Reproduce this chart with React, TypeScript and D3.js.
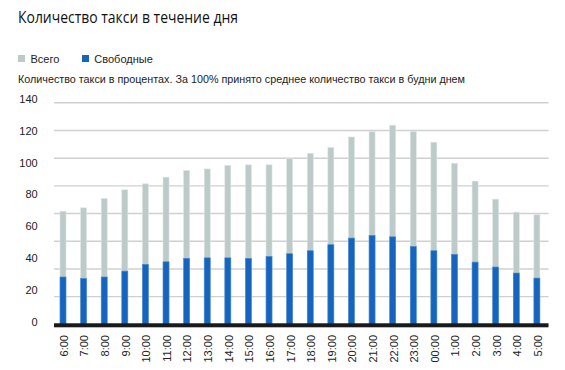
import React from "react";
import * as d3 from "d3";

const hours = ["6:00","7:00","8:00","9:00","10:00","11:00","12:00","13:00","14:00","15:00","16:00","17:00","18:00","19:00","20:00","21:00","22:00","23:00","00:00","1:00","2:00","3:00","4:00","5:00"];
const total = [71.5,73.6,79.5,85,88.8,93,97.2,98.2,100.4,100.8,100.8,104.8,108.1,111.7,118.4,121.8,125.8,121.8,115.1,101.8,90.5,79.1,70.9,69.2];
const free = [29.9,29.0,29.9,33.6,37.9,39.5,41.7,42.0,42.0,41.7,42.9,44.6,46.5,50.3,54.5,56.2,55.3,49.2,46.5,44.2,39.3,36.2,32.4,29.2];
const yTickLabels = [0,20,40,60,80,100,120,140];
const gridCount = 8;

const W = 565, H = 370;
const left = 54, right = 548.5, bottom = 324.3, top = 102.8;
const GRAY = "#bccac9";
const BLUE = "#1565bf";
const FONT = "'Liberation Sans', Arial, sans-serif";

export default function App() {
  const x = d3.scaleBand<string>().domain(hours).range([left, right]).paddingInner(0).paddingOuter(0);
  const y = d3.scaleLinear().domain([0, 140]).range([bottom, top]);
  const bw = 6;
  const bx = (h: string) => (x(h) as number) + 6;
  const grid = d3.range(0, gridCount + 1).map((i) => (140 / gridCount) * i);

  return (
    <svg width={W} height={H} style={{ position: "absolute", left: 0, top: 0, background: "#fff" }}>
      <text x={18} y={22.5} fontFamily="'Open Sans', sans-serif" fontSize={16} fill="#111" textLength={220} lengthAdjust="spacingAndGlyphs">Количество такси в течение дня</text>

      <rect x={18} y={55} width={7} height={7} fill={GRAY} />
      <text x={30.5} y={62.5} fontFamily={FONT} fontSize={11} fill="#222">Всего</text>
      <rect x={82} y={55} width={7} height={7} fill={BLUE} />
      <text x={94.3} y={62.5} fontFamily={FONT} fontSize={11} fill="#222">Свободные</text>

      <text x={18} y={83.3} fontFamily={FONT} fontSize={11} fill="#222" textLength={447} lengthAdjust="spacingAndGlyphs">Количество такси в процентах. За 100% принято среднее количество такси в будни днем</text>

      {grid.map((g, i) => (
        <line key={i} x1={left} x2={right} y1={y(g)} y2={y(g)} stroke="#d0d0d0" strokeWidth={1.4} />
      ))}

      {yTickLabels.map((t) => (
        <text key={t} x={37.7} y={bottom - 2.5 - (t / 140) * (bottom - 2.5 - 99)} dy="0.35em" textAnchor="end" fontFamily={FONT} fontSize={11} fill="#222">{t}</text>
      ))}

      {hours.map((h, i) => (
        <g key={h}>
          <rect x={bx(h)} y={y(total[i])} width={bw} height={bottom - y(total[i])} fill={GRAY} stroke="#dde5e4" strokeWidth={0.6} />
          <rect x={bx(h)} y={y(free[i])} width={bw} height={bottom - y(free[i])} fill={BLUE} stroke="#4b8ad0" strokeWidth={0.6} />
        </g>
      ))}

      <rect x={left} y={323.3} width={right - left} height={4} fill="#1a1a1a" />

      {hours.map((h) => (
        <text key={"l" + h} transform={`translate(${bx(h) + bw / 2 + 1},335) rotate(-90)`} dy="0.35em" textAnchor="end" fontFamily={FONT} fontSize={11} fill="#222">{h}</text>
      ))}
    </svg>
  );
}
